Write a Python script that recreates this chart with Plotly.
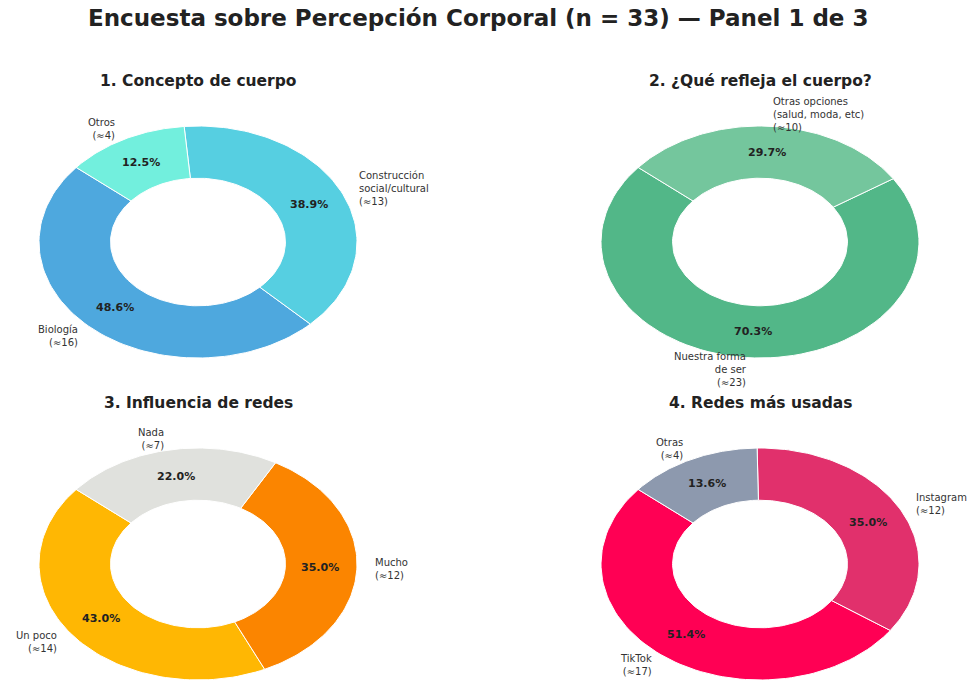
import numpy as np
import plotly.graph_objects as go

# ---------------- data ----------------
main_title = "Encuesta sobre Percepción Corporal (n = 33) — Panel 1 de 3"

p1_title = "1. Concepto de cuerpo"
p1_labels = ["Biología", "Construcción<br>social/cultural", "Otros"]
p1_counts = [16, 13, 4]
p1_pcts = [48.6, 38.9, 12.5]
p1_colors = ["#4EA8DE", "#56CFE1", "#72EFDD"]

p2_title = "2. ¿Qué refleja el cuerpo?"
p2_labels = ["Nuestra forma<br>de ser", "Otras opciones<br>(salud, moda, etc)"]
p2_counts = [23, 10]
p2_pcts = [70.3, 29.7]
p2_colors = ["#52B788", "#74C69D"]

p3_title = "3. Influencia de redes"
p3_labels = ["Un poco", "Mucho", "Nada"]
p3_counts = [14, 12, 7]
p3_pcts = [43.0, 35.0, 22.0]
p3_colors = ["#FFB703", "#FB8500", "#E0E1DD"]

p4_title = "4. Redes más usadas"
p4_labels = ["TikTok", "Instagram", "Otras"]
p4_counts = [17, 12, 4]
p4_pcts = [51.4, 35.0, 13.6]
p4_colors = ["#FF0054", "#E1306C", "#8D99AE"]

panels = [
    (p1_title, p1_labels, p1_counts, p1_pcts, p1_colors),
    (p2_title, p2_labels, p2_counts, p2_pcts, p2_colors),
    (p3_title, p3_labels, p3_counts, p3_pcts, p3_colors),
    (p4_title, p4_labels, p4_counts, p4_pcts, p4_colors),
]

# ---------------- layout constants ----------------
W, H = 977, 682
START = 140.0          # start angle (deg), counter-clockwise
R_IN = 0.55            # hole radius (fraction)
PCT_R = 0.77
LAB_R = 1.1
A_PX, B_PX = 159.0, 116.0   # horizontal / vertical radius in px
centers = [(198, 242), (760, 242), (198, 564), (760, 564)]
title_px = [(198, 81), (760, 81), (198, 403), (760, 403)]

FONT = "DejaVu Sans"
fig = go.Figure()
annotations = []
layout_axes = {}

for i, (title, labels, counts, pcts, colors) in enumerate(panels):
    k = "" if i == 0 else str(i + 1)
    xref, yref = "x" + k, "y" + k
    cx, cy = centers[i]
    # each subplot spans the whole figure; 1 unit = A_PX horiz, B_PX vert
    xr = [(0 - cx) / A_PX, (W - cx) / A_PX]
    yr = [(cy - H) / B_PX, (cy - 0) / B_PX]
    layout_axes["xaxis" + k] = dict(domain=[0, 1], range=xr, visible=False,
                                    fixedrange=True, anchor=yref)
    layout_axes["yaxis" + k] = dict(domain=[0, 1], range=yr, visible=False,
                                    fixedrange=True, anchor=xref)

    total = float(sum(pcts))
    ang = START
    for lab, cnt, pct, col in zip(labels, counts, pcts, colors):
        span = pct / total * 360.0
        t = np.radians(np.linspace(ang, ang + span, 90))
        xs = np.concatenate([np.cos(t), R_IN * np.cos(t[::-1]), [np.cos(t[0])]])
        ys = np.concatenate([np.sin(t), R_IN * np.sin(t[::-1]), [np.sin(t[0])]])
        fig.add_trace(go.Scatter(
            x=xs, y=ys, mode="lines", fill="toself", fillcolor=col,
            line=dict(color="white", width=1), xaxis=xref, yaxis=yref,
            hoverinfo="skip", showlegend=False))
        mid = np.radians(ang + span / 2)
        side = "left" if np.cos(mid) > 0 else "right"
        annotations.append(dict(
            x=LAB_R * np.cos(mid), y=LAB_R * np.sin(mid), xref=xref, yref=yref,
            text=f"{lab}<br>(≈{cnt})", showarrow=False, xanchor=side,
            yanchor="middle", align=side,
            font=dict(family=FONT, size=10, color="#333333")))
        annotations.append(dict(
            x=PCT_R * np.cos(mid), y=PCT_R * np.sin(mid), xref=xref, yref=yref,
            text=f"<b>{pct:.1f}%</b>", showarrow=False, xanchor="center",
            yanchor="middle",
            font=dict(family=FONT, size=11, color="#222222")))
        ang += span

    tx, ty = title_px[i]
    annotations.append(dict(
        x=tx / W, y=1 - ty / H, xref="paper", yref="paper",
        text=f"<b>{title}</b>", showarrow=False, xanchor="center",
        yanchor="middle", font=dict(family=FONT, size=15.5, color="#222222")))

annotations.append(dict(
    x=478 / W, y=1 - 18 / H, xref="paper", yref="paper",
    text=f"<b>{main_title}</b>", showarrow=False, xanchor="center",
    yanchor="middle", font=dict(family=FONT, size=23, color="#222222")))

fig.update_layout(
    width=W, height=H, margin=dict(l=0, r=0, t=0, b=0),
    paper_bgcolor="white", plot_bgcolor="rgba(0,0,0,0)", showlegend=False,
    annotations=annotations, **layout_axes)

fig.write_html("out.html", config={"displayModeBar": False},
               post_script="document.body.style.margin='0';document.body.style.overflow='hidden';")
